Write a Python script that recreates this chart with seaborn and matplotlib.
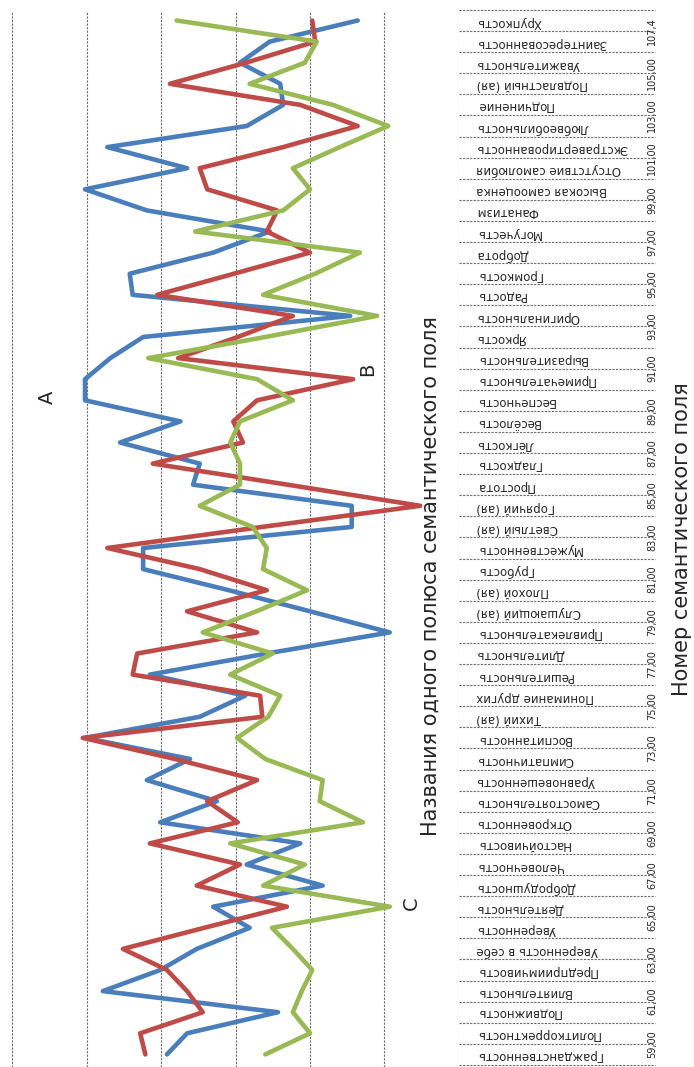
import matplotlib
matplotlib.use("Agg")
import matplotlib.pyplot as plt
import seaborn as sns
import pandas as pd
import numpy as np

# ---- data (category order: first category = bottom of the rotated chart) ----
categories = [
    "Гражданственность", "Политкорректность", "Подвижность", "Влиятельность",
    "Предприимчивость", "Уверенность в себе", "Уверенность", "Деятельность",
    "Добродушность", "Человечность", "Настойчивость", "Откровенность",
    "Самостоятельность", "Уравновешенность", "Симпатичность", "Воспитанность",
    "Тихий (ая)", "Понимание других", "Решительность", "Длительность",
    "Привлекательность", "Слушающий (ая)", "Плохой (ая)", "Грубость",
    "Мужественность", "Светлый (ая)", "Горячий (ая)", "Простота",
    "Гладкость", "Лёгкость", "Весёлость", "Беспечность",
    "Примечательность", "Выразительность", "Яркость", "Оригинальность",
    "Радость", "Громкость", "Доброта", "Могучесть",
    "Фанатизм", "Высокая самооценка", "Отсутствие самолюбия", "Экстравертированность",
    "Любвеобильность", "Подчинение", "Подвластный (ая)", "Уважительность",
    "Заинтересованность", "Хрупкость",
]

series_names = ["A", "B", "C"]

values_a = [3.92, 3.65, 2.43, 4.78, 4.01, 3.52, 2.81, 3.30, 1.83, 2.85,
            2.13, 4.01, 3.25, 4.19, 3.61, 5.02, 3.48, 2.87, 4.15, 2.58,
            0.93, 2.00, 3.09, 4.24, 4.24, 1.44, 1.44, 3.57, 3.48, 4.55,
            3.74, 5.02, 5.02, 4.68, 4.24, 1.46, 4.38, 4.42, 3.30, 2.54,
            4.19, 5.02, 3.65, 4.72, 2.85, 2.36, 2.40, 2.94, 2.54, 1.36]

values_b = [4.21, 4.28, 3.44, 3.65, 3.92, 4.51, 3.42, 2.31, 3.52, 2.94,
            4.15, 2.97, 3.38, 2.71, 3.81, 5.05, 2.64, 2.67, 4.38, 4.32,
            2.71, 3.65, 2.58, 3.48, 4.72, 2.64, 0.52, 2.30, 4.11, 2.90,
            3.03, 2.71, 1.42, 3.77, 2.97, 2.23, 4.05, 3.02, 2.00, 2.58,
            2.44, 3.38, 3.48, 2.36, 1.36, 2.13, 3.88, 2.86, 1.93, 1.97]

values_c = [2.60, 2.00, 2.23, 2.11, 1.97, 2.23, 2.51, 0.93, 2.63, 2.07,
            3.07, 1.29, 1.87, 1.83, 2.60, 2.98, 2.56, 2.40, 3.07, 2.50,
            3.44, 2.72, 2.04, 2.63, 2.58, 2.77, 3.48, 2.94, 2.94, 3.07,
            2.94, 2.23, 2.71, 4.17, 2.60, 1.10, 2.63, 1.93, 1.33, 3.54,
            2.36, 2.00, 2.23, 1.60, 0.95, 1.69, 2.81, 2.07, 1.91, 3.79]

field_numbers = ["59,00", "61,00", "63,00", "65,00", "67,00", "69,00", "71,00",
                 "73,00", "75,00", "77,00", "79,00", "81,00", "83,00", "85,00",
                 "87,00", "89,00", "91,00", "93,00", "95,00", "97,00", "99,00",
                 "101,00", "103,00", "105,00", "107,4"]

value_ticks = [0, 1, 2, 3, 4, 5, 6]

axis_title = "Номер семантического поля"
inner_title = "Названия одного полюса семантического поля"
curve_labels = ["A", "B", "C"]
curve_label_pos = [(5.53, 31.16), (1.23, 32.48), (0.64, 7.18)]

# ---- style ----
sns.set_style("white")
plt.rcParams["font.family"] = ["DejaVu Sans"]

n = len(categories)
df = pd.DataFrame({
    "pos": np.tile(np.arange(n), 3),
    "value": values_a + values_b + values_c,
    "series": np.repeat(series_names, n),
})

W, H = 694, 1067
fig = plt.figure(figsize=(W / 100, H / 100), dpi=100)
ax = fig.add_axes([12 / W, 0, 447 / W, 1055 / H])

sns.lineplot(data=df, x="value", y="pos", hue="series", hue_order=series_names,
             palette=["#4A7EBB", "#BE4B48", "#98B954"], orient="y", sort=True,
             estimator=None, linewidth=3.3, legend=False, ax=ax)

ax.set_xlim(6, 0)
ax.set_ylim(-0.597, 49.403)
ax.set_xticks(value_ticks)
grid_style = dict(color="#6a6a6a", linestyle=(0, (2, 1.2)), linewidth=0.8)
ax.xaxis.grid(True, **grid_style)
ax.yaxis.grid(False)
ax.set_axisbelow(True)
for s in ax.spines.values():
    s.set_visible(False)
ax.set_xlabel("")
ax.set_ylabel("")
ax.tick_params(axis="x", bottom=False, labelbottom=False)
ax.set_yticks(range(n))
ax.set_yticklabels(categories, rotation=180, fontsize=8.5)
ax.tick_params(axis="y", left=False, labelleft=False, right=False,
               labelright=True, pad=9)

# category separators of the label table
ax.hlines(np.arange(-0.5, n, 1), 0, -2.63, clip_on=False, **{
    "colors": grid_style["color"], "linestyles": [grid_style["linestyle"]],
    "linewidth": grid_style["linewidth"]})

# outer level numbers
for j, lab in enumerate(field_numbers):
    ax.text(-2.59, 2 * j + 0.5, lab, rotation=90, ha="center", va="center",
            fontsize=7, clip_on=False)

# curve letters
for lab, (vx, vy) in zip(curve_labels, curve_label_pos):
    ax.text(vx, vy, lab, rotation=90, ha="center", va="center", fontsize=14)

fig.text(431 / W, 1 - 576 / H, inner_title, rotation=90, ha="center",
         va="center", fontsize=15)
fig.text(682 / W, 1 - 539 / H, axis_title, rotation=90, ha="center",
         va="center", fontsize=15)

fig.savefig("out.png", dpi=100)
